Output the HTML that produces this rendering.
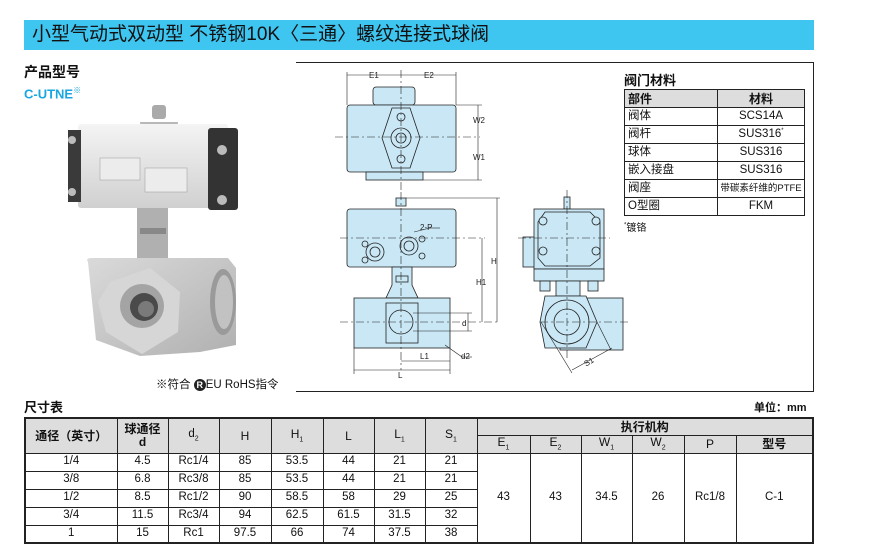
<!DOCTYPE html>
<html><head><meta charset="utf-8"><style>
*{margin:0;padding:0;box-sizing:border-box}
body{width:889px;height:552px;background:#fff;position:relative;font-family:"Liberation Sans","Noto Sans CJK SC",sans-serif;color:#111;overflow:hidden}
.a{position:absolute;white-space:nowrap}
table{border-collapse:collapse;position:absolute}
td{border:1px solid #222;text-align:center;font-size:11.5px;padding:0;line-height:1}
</style></head><body>
<div class="a" style="left:24px;top:20px;width:790px;height:30px;background:#3ec5f0"></div>
<div class="a" style="left:32px;top:23px;font-size:19px;line-height:24px">小型气动式双动型 不锈钢10K〈三通〉螺纹连接式球阀</div>
<div class="a" style="left:24px;top:62px;font-size:14px;font-weight:bold">产品型号</div>
<div class="a" style="left:24px;top:85px;font-size:13px;color:#1aa6e0;font-weight:bold">C-UTNE<sup style="font-size:8px">※</sup></div>
<div class="a" style="left:156px;top:376px;font-size:11.5px">※符合 <span style="display:inline-block;width:12px;height:12px;border-radius:6px;background:#222;color:#fff;font-size:9px;text-align:center;line-height:12px;font-weight:bold">R</span>EU RoHS指令</div>

<!-- photo -->
<svg class="a" style="left:0;top:0" width="300" height="400">
<defs>
<linearGradient id="g1" x1="0" y1="0" x2="0" y2="1"><stop offset="0" stop-color="#f4f4f4"/><stop offset="1" stop-color="#d0d0d0"/></linearGradient>
<linearGradient id="g2" x1="0" y1="0" x2="1" y2="1"><stop offset="0" stop-color="#dadada"/><stop offset="1" stop-color="#b0b0b0"/></linearGradient>
</defs>
<rect x="140" y="128" width="38" height="14" fill="#bbb"/>
<rect x="152" y="105" width="14" height="14" rx="3" fill="#aaa"/>
<path d="M140 122 L178 122 L176 140 L142 140Z" fill="#b8b8b8"/>
<rect x="137" y="205" width="31" height="60" fill="#b0b0b0"/>
<rect x="140" y="228" width="26" height="6" fill="#888"/>
<path d="M88 262 Q85 258 92 258 L228 258 L236 268 L236 345 L200 352 L140 356 L96 340 Z" fill="url(#g2)"/>
<ellipse cx="223" cy="302" rx="13" ry="33" fill="#9a9a9a"/>
<ellipse cx="224" cy="302" rx="9" ry="27" fill="#c2c2c2"/>
<polygon points="110,282 150,268 180,292 178,332 142,354 106,332 98,302" fill="#d6d6d6"/>
<circle cx="142" cy="306" r="22" fill="#a4a4a4"/>
<circle cx="144" cy="307" r="14" fill="#4a4a4a"/>
<circle cx="146" cy="309" r="8" fill="#7a7a7a"/>
<rect x="78" y="124" width="150" height="84" rx="3" fill="url(#g1)"/>
<rect x="68" y="130" width="13" height="72" fill="#3a3a3a"/>
<rect x="208" y="128" width="30" height="82" rx="3" fill="#333"/>
<circle cx="222" cy="150" r="5" fill="#bbb"/><circle cx="222" cy="200" r="5" fill="#bbb"/>
<circle cx="72" cy="140" r="4" fill="#bbb"/><circle cx="72" cy="192" r="4" fill="#bbb"/>
<rect x="100" y="158" width="40" height="22" fill="#ececec" stroke="#999" stroke-width=".5"/>
<rect x="145" y="168" width="42" height="24" fill="#ececec" stroke="#999" stroke-width=".5"/>
</svg>

<!-- frame -->
<div class="a" style="left:296px;top:62px;width:518px;height:330px;border-top:1px solid #222;border-right:1px solid #222;border-bottom:1px solid #222"></div>

<svg class="a" style="left:0;top:0" width="889" height="552" font-family="Liberation Sans" font-size="8">
<g stroke="#222" stroke-width="0.8" fill="#c9e7f5">
<rect x="373" y="87" width="42" height="18" rx="3"/>
<rect x="347" y="105" width="109" height="67" rx="3"/>
<rect x="366" y="172" width="57" height="8"/>
<path d="M392 108 L410 108 L420 138 L410 168 L392 168 L382 138Z"/>
<circle cx="401" cy="138" r="10"/><circle cx="401" cy="138" r="5"/>
<circle cx="401" cy="117" r="4"/><circle cx="401" cy="159" r="4"/>
<rect x="396" y="198" width="10" height="8"/>
<rect x="347" y="209" width="109" height="58" rx="3"/>
<path d="M392 267 L412 267 L412 285 L418 298 L386 298 L392 285Z"/>
<rect x="354" y="298" width="96" height="50"/>
<rect x="386" y="303" width="32" height="40"/>
<circle cx="401" cy="322" r="12"/>
<circle cx="375" cy="252" r="9"/><circle cx="375" cy="252" r="5"/>
<circle cx="409" cy="246" r="9"/><circle cx="409" cy="246" r="5"/>
<circle cx="365" cy="244" r="3"/><circle cx="365" cy="260" r="3"/><circle cx="422" cy="239" r="3"/><circle cx="422" cy="256" r="3"/>
<rect x="396" y="276" width="12" height="6"/>
<rect x="564" y="197" width="6" height="12"/>
<rect x="523" y="237" width="12" height="30"/>
<rect x="534" y="209" width="70" height="60"/>
<path d="M545 212 L590 212 L600 222 L600 258 L590 266 L545 266 L538 258 L538 222Z"/>
<rect x="534" y="269" width="70" height="12"/>
<circle cx="543" cy="221" r="4"/><circle cx="596" cy="221" r="4"/><circle cx="543" cy="251" r="4"/><circle cx="596" cy="251" r="4"/>
<rect x="540" y="281" width="10" height="10"/><rect x="588" y="281" width="10" height="10"/>
<path d="M556 281 L580 281 L580 296 L556 296Z"/>
<rect x="560" y="298" width="63" height="52"/>
<polygon points="545,296 586,296 597,322 586,348 545,348 540,322"/>
<circle cx="567" cy="322" r="22"/><circle cx="567" cy="322" r="13"/>
</g>
<g stroke="#222" stroke-width="0.6" fill="none">
<line x1="347" y1="72" x2="347" y2="105"/><line x1="456" y1="72" x2="456" y2="105"/>
<line x1="347" y1="75" x2="456" y2="75"/>
<line x1="401" y1="70" x2="401" y2="190" stroke-dasharray="8 3 2 3"/>
<line x1="335" y1="137" x2="480" y2="137" stroke-dasharray="8 3 2 3"/>
<line x1="456" y1="105" x2="482" y2="105"/><line x1="423" y1="180" x2="482" y2="180"/>
<line x1="478" y1="105" x2="478" y2="180"/>
<line x1="401" y1="192" x2="401" y2="370" stroke-dasharray="8 3 2 3"/>
<line x1="406" y1="198" x2="500" y2="198"/><line x1="497" y1="198" x2="497" y2="322"/>
<line x1="340" y1="238" x2="485" y2="238" stroke-dasharray="8 3 2 3"/>
<line x1="482" y1="238" x2="482" y2="322"/>
<line x1="340" y1="322" x2="500" y2="322" stroke-dasharray="8 3 2 3"/>
<line x1="413" y1="313" x2="472" y2="313"/><line x1="413" y1="331" x2="472" y2="331"/>
<line x1="468" y1="313" x2="468" y2="331"/>
<line x1="401" y1="361" x2="450" y2="361"/><line x1="450" y1="348" x2="450" y2="374"/>
<line x1="354" y1="348" x2="354" y2="374"/><line x1="354" y1="370" x2="450" y2="370"/>
<line x1="445" y1="345" x2="462" y2="357"/><line x1="462" y1="357" x2="472" y2="357"/>
<line x1="414" y1="232" x2="430" y2="228"/><line x1="430" y1="228" x2="440" y2="228"/>
<line x1="567" y1="190" x2="567" y2="360" stroke-dasharray="8 3 2 3"/>
<line x1="518" y1="238" x2="610" y2="238" stroke-dasharray="8 3 2 3"/>
<line x1="540" y1="322" x2="630" y2="322" stroke-dasharray="8 3 2 3"/>
<line x1="541" y1="322" x2="572" y2="373"/><line x1="597" y1="322" x2="611" y2="350"/>
<line x1="572" y1="370" x2="612" y2="348"/>
</g>
<g fill="#222" stroke="none">
<text x="369" y="78">E1</text><text x="424" y="78">E2</text>
<text x="473" y="123">W2</text><text x="473" y="160">W1</text>
<text x="491" y="264">H</text><text x="476" y="285">H1</text>
<text x="420" y="230">2-P</text><text x="462" y="326">d</text>
<text x="461" y="359">d2</text><text x="420" y="359">L1</text><text x="398" y="378">L</text>
<text x="584" y="365" transform="rotate(-30 588 362)">S1</text>
</g>
</svg>

<div class="a" style="left:624px;top:70px;font-size:13px;font-weight:bold">阀门材料</div>
<table style="left:624px;top:89px;width:181px">
<tr style="height:18px;background:#ddd"><td style="text-align:left;font-size:12px;font-weight:bold;padding-left:3px;width:93px">部件</td><td style="font-size:12px;font-weight:bold">材料</td></tr>
<tr style="height:18px"><td style="text-align:left;padding-left:3px">阀体</td><td>SCS14A</td></tr>
<tr style="height:18px"><td style="text-align:left;padding-left:3px">阀杆</td><td>SUS316<sup style="font-size:6px">*</sup></td></tr>
<tr style="height:18px"><td style="text-align:left;padding-left:3px">球体</td><td>SUS316</td></tr>
<tr style="height:18px"><td style="text-align:left;padding-left:3px">嵌入接盘</td><td>SUS316</td></tr>
<tr style="height:18px"><td style="text-align:left;padding-left:3px">阀座</td><td style="font-size:9.5px">带碳素纤维的PTFE</td></tr>
<tr style="height:18px"><td style="text-align:left;padding-left:3px">O型圈</td><td>FKM</td></tr>
</table>
<div class="a" style="left:624px;top:219px;font-size:10px"><sup style="font-size:6px">*</sup>镀铬</div>

<div class="a" style="left:24px;top:397px;font-size:13px;font-weight:bold">尺寸表</div>
<div class="a" style="left:754px;top:399px;font-size:11px;font-weight:bold">单位：mm</div>

<table style="left:24px;top:417px;width:790px;border:2px solid #222">
<colgroup><col style="width:92px"><col style="width:51px"><col style="width:51px"><col style="width:52px"><col style="width:52px"><col style="width:51px"><col style="width:51px"><col style="width:52px"><col style="width:53px"><col style="width:51px"><col style="width:51px"><col style="width:52px"><col style="width:52px"><col></colgroup>
<tr style="height:17px;background:#ddd"><td rowspan="2" style="font-size:12px;font-weight:bold">通径（英寸）</td><td rowspan="2" style="font-size:12px;font-weight:bold;line-height:13px">球通径<br>d</td><td rowspan="2">d<sub style="font-size:7px">2</sub></td><td rowspan="2" style="font-size:12px">H</td><td rowspan="2" style="font-size:12px">H<sub style="font-size:7px">1</sub></td><td rowspan="2" style="font-size:12px">L</td><td rowspan="2" style="font-size:12px">L<sub style="font-size:7px">1</sub></td><td rowspan="2" style="font-size:12px">S<sub style="font-size:7px">1</sub></td><td colspan="6" style="font-size:12px;font-weight:bold">执行机构</td></tr>
<tr style="height:18px;background:#ddd"><td style="font-size:12px">E<sub style="font-size:7px">1</sub></td><td style="font-size:12px">E<sub style="font-size:7px">2</sub></td><td style="font-size:12px">W<sub style="font-size:7px">1</sub></td><td style="font-size:12px">W<sub style="font-size:7px">2</sub></td><td style="font-size:12px">P</td><td style="font-size:12px;font-weight:bold">型号</td></tr>
<tr style="height:18px"><td>1/4</td><td>4.5</td><td>Rc1/4</td><td>85</td><td>53.5</td><td>44</td><td>21</td><td>21</td><td rowspan="5">43</td><td rowspan="5">43</td><td rowspan="5">34.5</td><td rowspan="5">26</td><td rowspan="5">Rc1/8</td><td rowspan="5">C-1</td></tr>
<tr style="height:18px"><td>3/8</td><td>6.8</td><td>Rc3/8</td><td>85</td><td>53.5</td><td>44</td><td>21</td><td>21</td></tr>
<tr style="height:18px"><td>1/2</td><td>8.5</td><td>Rc1/2</td><td>90</td><td>58.5</td><td>58</td><td>29</td><td>25</td></tr>
<tr style="height:18px"><td>3/4</td><td>11.5</td><td>Rc3/4</td><td>94</td><td>62.5</td><td>61.5</td><td>31.5</td><td>32</td></tr>
<tr style="height:18px"><td>1</td><td>15</td><td>Rc1</td><td>97.5</td><td>66</td><td>74</td><td>37.5</td><td>38</td></tr>
</table>
</body></html>
